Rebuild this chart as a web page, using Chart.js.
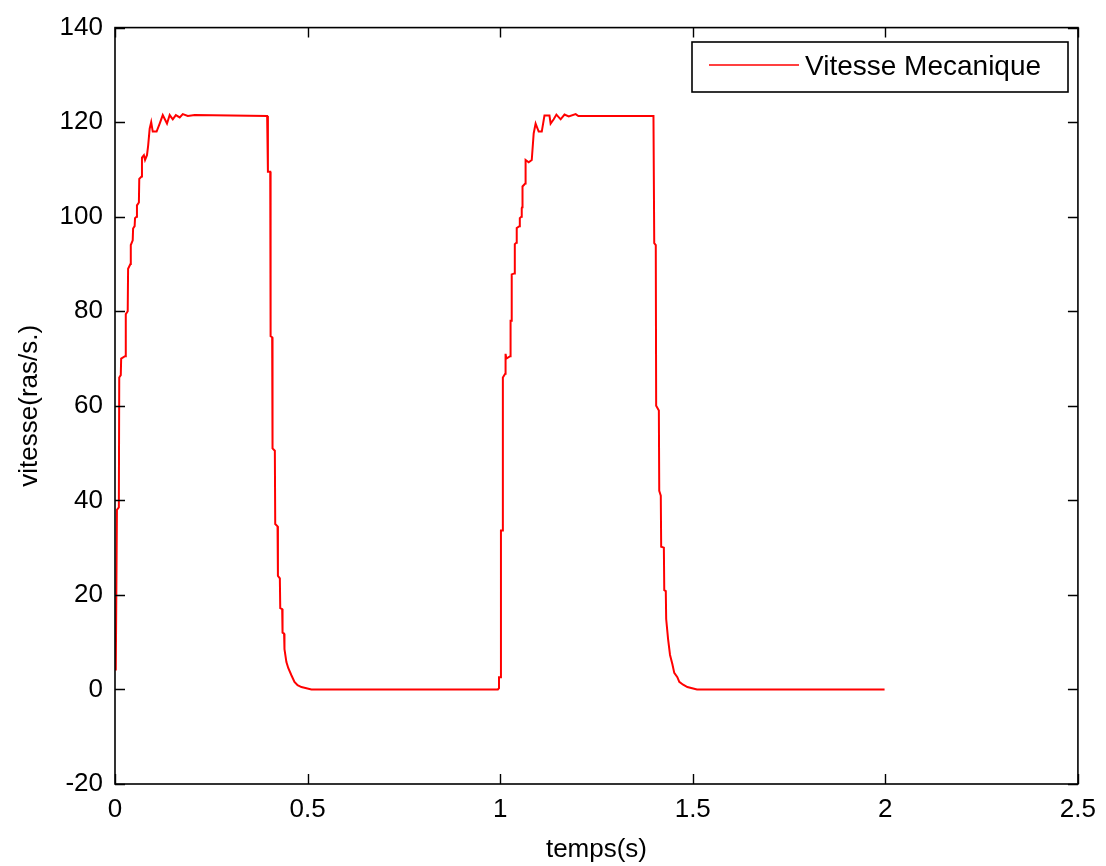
<!DOCTYPE html>
<html>
<head>
<meta charset="utf-8">
<title>Vitesse Mecanique</title>
<script src="https://cdn.jsdelivr.net/npm/chart.js@4.4.1/dist/chart.umd.min.js"></script>
<style>
    html, body { margin: 0; padding: 0; background: #fff; }
    #wrap { width: 1106px; height: 866px; }
</style>
</head>
<body>
<div id="wrap"><canvas id="vitesse"></canvas></div>
<script>
// time axis (s) and mechanical speed (rad/s), two start/stop cycles
var temps = [
    0.002, 0.005, 0.010, 0.011, 0.015, 0.016, 0.026, 0.028, 0.033, 0.034,
    0.040, 0.041, 0.046, 0.047, 0.051, 0.052, 0.056, 0.057, 0.062, 0.063,
    0.069, 0.070, 0.075, 0.078, 0.083, 0.086, 0.090, 0.094, 0.098, 0.108,
    0.116, 0.124, 0.135, 0.142, 0.150, 0.158, 0.168, 0.176, 0.189, 0.207,
    0.395, 0.397, 0.403, 0.404, 0.408, 0.409, 0.415, 0.416, 0.422, 0.423,
    0.428, 0.429, 0.434, 0.435, 0.439, 0.440, 0.445, 0.450, 0.458, 0.466,
    0.474, 0.484, 0.510,
    0.994, 0.997, 0.997, 1.001, 1.002, 1.006, 1.007, 1.013, 1.014, 1.016,
    1.026, 1.027, 1.029, 1.030, 1.037, 1.038, 1.042, 1.043, 1.050, 1.051,
    1.055, 1.056, 1.057, 1.058, 1.065, 1.066, 1.074, 1.082, 1.087, 1.092,
    1.100, 1.108, 1.115, 1.128, 1.131, 1.139, 1.146, 1.157, 1.167, 1.178,
    1.196, 1.203, 1.398, 1.400, 1.404, 1.405, 1.412, 1.413, 1.417, 1.418,
    1.425, 1.426, 1.430, 1.431, 1.436, 1.441, 1.447, 1.452, 1.460, 1.465,
    1.475, 1.486, 1.511, 1.998
];
var vitesse = [
    4, 38, 38.5, 66, 66.5, 70, 70.5, 79.4, 80, 89,
    90, 94, 95, 97.5, 98, 99.7, 100, 102.4, 103, 108,
    108.5, 112.5, 113, 112, 113, 115, 118.6, 120, 118, 118,
    119.7, 121.5, 119.7, 121.5, 120.6, 121.5, 121, 121.7, 121.3, 121.5,
    121.3, 109.5, 109.5, 74.7, 74.5, 51, 50.5, 35, 34.5, 24,
    23.5, 17.2, 17, 12, 11.8, 8.5, 5.8, 4.5, 3, 1.6,
    0.9, 0.5, 0,
    0, 0.3, 2.6, 2.6, 33.6, 33.6, 66, 66.8, 71, 70,
    70.5, 78, 78, 87.8, 88, 94.2, 94.5, 97.6, 98, 99.7,
    100, 101.8, 102, 106.4, 107, 112, 111.5, 112, 117.6, 119.7,
    118, 118, 121.4, 121.4, 119.7, 120.6, 121.6, 120.6, 121.6, 121.2,
    121.7, 121.3, 121.3, 94.4, 94, 60, 59, 42, 41, 30.2,
    30, 21, 20.8, 14.9, 10.6, 7.3, 5.4, 3.5, 2.6, 1.6,
    1, 0.5, 0, 0
];

var xTicks = [0, 0.5, 1, 1.5, 2, 2.5];
var yTicks = [-20, 0, 20, 40, 60, 80, 100, 120, 140];

var serieLabel = 'Vitesse Mecanique';
var xTitle = 'temps(s)';
var yTitle = 'vitesse(ras/s.)';

var points = temps.map( function ( t, i ) {
    return { x: t, y: vitesse[ i ] };
} );

var FONT = "'Liberation Sans', Arial, sans-serif";

// plain number labels: 1 and 2, not 1.0 and 2.0
function plainLabel( value ) {
    return String( value );
}

// box frame, inward ticks on all four sides, legend in the top-right corner
var matlabFrame = {
    id: 'matlabFrame',
    afterDraw: function ( chart ) {
        var ctx  = chart.ctx;
        var area = chart.chartArea;
        var xs   = chart.scales.x;
        var ys   = chart.scales.y;
        var len  = 10;

        ctx.save();
        ctx.strokeStyle = '#000';
        ctx.lineWidth = 1.6;
        ctx.strokeRect( area.left, area.top, area.right - area.left, area.bottom - area.top );

        ctx.beginPath();
        xTicks.forEach( function ( v ) {
            var px = Math.round( xs.getPixelForValue( v ) ) + 0.5;
            ctx.moveTo( px, area.bottom );
            ctx.lineTo( px, area.bottom - len );
            ctx.moveTo( px, area.top );
            ctx.lineTo( px, area.top + len );
        } );
        yTicks.forEach( function ( v ) {
            var py = Math.round( ys.getPixelForValue( v ) ) + 0.5;
            ctx.moveTo( area.left, py );
            ctx.lineTo( area.left + len, py );
            ctx.moveTo( area.right, py );
            ctx.lineTo( area.right - len, py );
        } );
        ctx.lineWidth = 1.4;
        ctx.stroke();

        // legend
        var ds = chart.data.datasets[ 0 ];
        var bx = 692, by = 42, bw = 376, bh = 50;
        ctx.fillStyle = '#fff';
        ctx.fillRect( bx, by, bw, bh );
        ctx.lineWidth = 1.6;
        ctx.strokeStyle = '#000';
        ctx.strokeRect( bx, by, bw, bh );

        ctx.beginPath();
        ctx.moveTo( bx + 17, by + 23 );
        ctx.lineTo( bx + 107, by + 23 );
        ctx.strokeStyle = ds.borderColor;
        ctx.lineWidth = 1.5;
        ctx.stroke();

        ctx.fillStyle = '#000';
        ctx.font = '28px ' + FONT;
        ctx.textBaseline = 'middle';
        ctx.textAlign = 'left';
        ctx.fillText( ds.label, bx + 113, by + 25 );
        ctx.restore();
    }
};

new Chart( document.getElementById( 'vitesse' ).getContext( '2d' ), {
    type: 'line',
    data: {
        datasets: [ {
            label: serieLabel,
            data: points,
            borderColor: '#ff0000',
            borderWidth: 2,
            pointRadius: 0,
            tension: 0,
            fill: false
        } ]
    },
    options: {
        responsive: true,
        maintainAspectRatio: false,
        animation: false,
        layout: {
            padding: { top: 26, right: 25, left: 0, bottom: 0 }
        },
        scales: {
            x: {
                type: 'linear',
                min: xTicks[ 0 ],
                max: xTicks[ xTicks.length - 1 ],
                afterBuildTicks: function ( scale ) {
                    scale.ticks = xTicks.map( function ( v ) { return { value: v }; } );
                },
                afterFit: function ( scale ) { scale.height = 82; },
                grid: { display: false, drawTicks: false },
                border: { display: false },
                ticks: {
                    color: '#000',
                    padding: 10,
                    maxRotation: 0,
                    autoSkip: false,
                    callback: plainLabel,
                    font: { family: FONT, size: 26 }
                },
                title: {
                    display: true,
                    text: xTitle,
                    color: '#000',
                    padding: { top: 0, bottom: 1 },
                    font: { family: FONT, size: 26 }
                }
            },
            y: {
                type: 'linear',
                min: yTicks[ 0 ],
                max: yTicks[ yTicks.length - 1 ],
                afterBuildTicks: function ( scale ) {
                    scale.ticks = yTicks.map( function ( v ) { return { value: v }; } );
                },
                afterFit: function ( scale ) { scale.width = 115; },
                grid: { display: false, drawTicks: false },
                border: { display: false },
                ticks: {
                    color: '#000',
                    padding: 12,
                    autoSkip: false,
                    callback: plainLabel,
                    font: { family: FONT, size: 26 }
                },
                title: {
                    display: true,
                    text: yTitle,
                    color: '#000',
                    padding: { top: 14, bottom: 0 },
                    font: { family: FONT, size: 26 }
                }
            }
        },
        plugins: {
            legend: { display: false },
            tooltip: { enabled: false }
        }
    },
    plugins: [ matlabFrame ]
} );
</script>
</body>
</html>
